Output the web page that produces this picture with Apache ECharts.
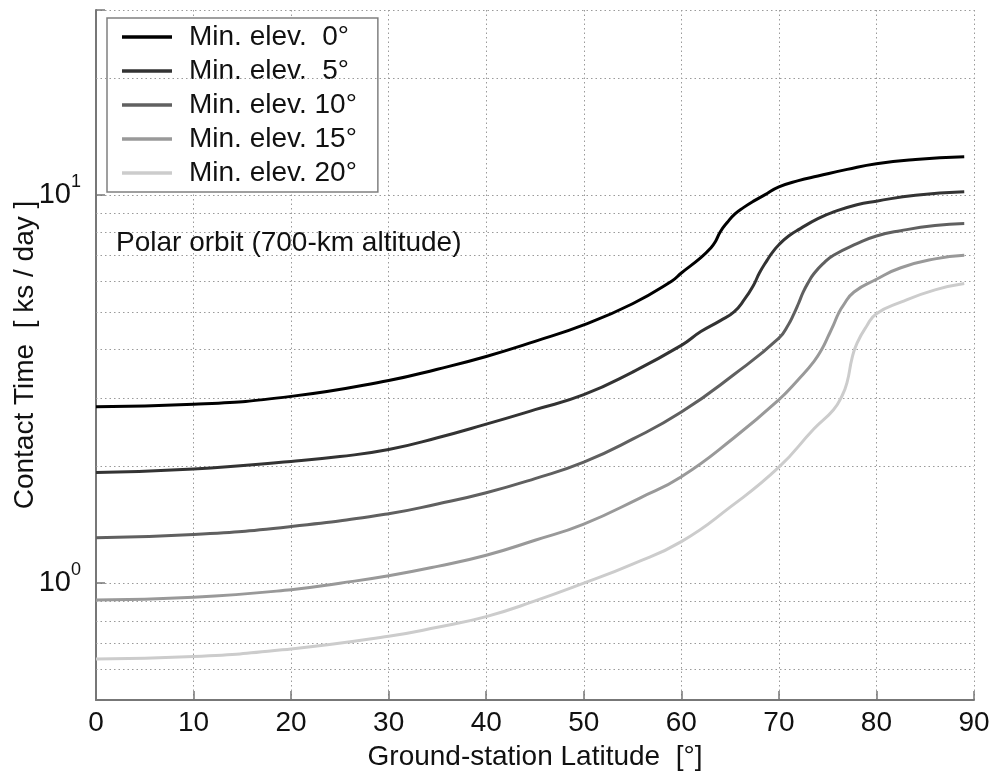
<!DOCTYPE html>
<html>
<head>
<meta charset="utf-8">
<script src="https://cdn.jsdelivr.net/npm/echarts@6/dist/echarts.min.js"></script>
<style>
  html, body { margin: 0; padding: 0; background: #fff; }
  #chart { width: 992px; height: 771px; }
</style>
</head>
<body>
<div id="chart"></div>
<script>
// ground-station latitude [deg] -> contact time [ks/day], one pair of arrays per min. elevation
const latE0 = [0, 10, 20, 30, 35, 40, 45, 50, 55, 59, 60, 62, 63, 63.5, 64, 64.7, 65.5, 66.4, 67.4, 68.5, 70, 72, 74, 77, 80, 84, 89]
const ctE0 = [2.85, 2.89, 3.03, 3.33, 3.56, 3.84, 4.2, 4.63, 5.25, 6.0, 6.3, 6.9, 7.3, 7.6, 8.05, 8.5, 8.95, 9.3, 9.65, 10.0, 10.5, 10.9, 11.2, 11.65, 12.05, 12.35, 12.55]

const latE5 = [0, 10, 20, 25, 30, 35, 40, 45, 50, 55, 60, 62, 64, 65.4, 66.5, 67.4, 68, 68.8, 69.3, 70, 71, 72.2, 74, 75.6, 78, 80, 84, 89]
const ctE5 = [1.93, 1.97, 2.06, 2.12, 2.21, 2.37, 2.57, 2.8, 3.06, 3.5, 4.1, 4.45, 4.75, 5.0, 5.4, 5.86, 6.3, 6.8, 7.1, 7.45, 7.85, 8.2, 8.7, 9.05, 9.45, 9.65, 10.0, 10.2]

const latE10 = [0, 10, 20, 30, 35, 40, 45, 50, 55, 60, 65.4, 70, 71, 71.5, 72, 72.5, 73, 73.6, 74.5, 75.6, 78, 80, 82.5, 86, 89]
const ctE10 = [1.31, 1.335, 1.40, 1.51, 1.60, 1.71, 1.86, 2.05, 2.35, 2.76, 3.45, 4.28, 4.65, 4.92, 5.25, 5.63, 5.95, 6.28, 6.65, 7.0, 7.5, 7.85, 8.1, 8.35, 8.45]

const latE15 = [0, 10, 20, 25, 30, 35, 40, 45, 50, 55.8, 60, 65.4, 70, 72, 73.6, 74.5, 75, 75.6, 76.1, 76.6, 77.7, 80, 82.5, 86, 89]
const ctE15 = [0.905, 0.92, 0.962, 1.0, 1.045, 1.105, 1.18, 1.29, 1.42, 1.66, 1.88, 2.37, 2.97, 3.35, 3.73, 4.05, 4.3, 4.63, 4.95, 5.2, 5.63, 6.07, 6.5, 6.85, 7.0]

const latE20 = [0, 10, 20, 30, 35, 40, 45, 50, 55, 60, 65, 70, 73.6, 75.6, 76.5, 77, 77.5, 78, 79, 80, 82.5, 86, 89]
const ctE20 = [0.638, 0.647, 0.677, 0.73, 0.77, 0.82, 0.9, 1.0, 1.12, 1.28, 1.57, 1.99, 2.5, 2.8, 3.05, 3.3, 3.8, 4.15, 4.6, 4.95, 5.3, 5.7, 5.92]

const seriesNames = ['Min. elev.  0°', 'Min. elev.  5°', 'Min. elev. 10°', 'Min. elev. 15°', 'Min. elev. 20°']
const seriesColors = ['#000000', '#333333', '#606060', '#999999', '#cccccc']
const minorGrid = [0.6, 0.7, 0.8, 0.9, 2, 3, 4, 5, 6, 7, 8, 9, 20]

const FONT = '"Liberation Sans", Arial, sans-serif'
const GRIDC = '#9a9a9a'

const lats = [latE0, latE5, latE10, latE15, latE20]
const vals = [ctE0, ctE5, ctE10, ctE15, ctE20]

const chart = echarts.init(document.getElementById('chart'))

const lineSeries = seriesNames.map((name, k) => ({
  name: name,
  type: 'line',
  data: lats[k].map((x, i) => [x, vals[k][i]]),
  showSymbol: false,
  symbol: 'none',
  smooth: 0.5,
  z: 10 - k,
  lineStyle: { color: seriesColors[k], width: 3 },
  itemStyle: { color: seriesColors[k] }
}))

const option = {
  backgroundColor: '#fff',
  animation: false,
  textStyle: { fontFamily: FONT },
  title: {
    text: 'Polar orbit (700-km altitude)',
    left: 116,
    top: 229,
    padding: 0,
    textStyle: { fontSize: 28, fontWeight: 'normal', color: '#111', fontFamily: FONT }
  },
  legend: {
    data: seriesNames,
    orient: 'vertical',
    left: 107,
    top: 18,
    padding: [5, 21, 5, 15],
    icon: 'rect',
    itemWidth: 50,
    itemHeight: 3.5,
    itemGap: 6,
    backgroundColor: '#fff',
    borderColor: '#808080',
    borderWidth: 1.5,
    borderRadius: 0,
    textStyle: { fontSize: 28, color: '#111', fontFamily: FONT, padding: [0, 0, 0, 12] }
  },
  grid: { left: 96, right: 18, top: 10, bottom: 71, containLabel: false, outerBoundsMode: 'none' },
  xAxis: {
    type: 'value',
    min: 0,
    max: 90,
    interval: 10,
    name: 'Ground-station Latitude  [°]',
    nameLocation: 'middle',
    nameGap: 43,
    nameTextStyle: { fontSize: 28, color: '#111', fontFamily: FONT },
    axisLine: { show: true, lineStyle: { color: '#777', width: 2 } },
    axisTick: { show: true, inside: true, length: 9, lineStyle: { color: '#777', width: 1.5 } },
    axisLabel: { fontSize: 28, color: '#111', margin: 9, fontFamily: FONT },
    splitLine: { show: true, lineStyle: { color: GRIDC, type: [1.5, 3], width: 1 } }
  },
  yAxis: {
    type: 'log',
    logBase: 10,
    min: 0.5,
    max: 30,
    name: 'Contact Time  [ ks / day ]',
    nameLocation: 'middle',
    nameGap: 57,
    nameMoveOverlap: false,
    nameRotate: 90,
    nameTextStyle: { fontSize: 28, color: '#111', fontFamily: FONT },
    axisLine: { show: true, lineStyle: { color: '#777', width: 2 } },
    axisTick: { show: true, inside: true, length: 9, lineStyle: { color: '#777', width: 1.5 } },
    axisLabel: {
      margin: 15,
      formatter: function (v) {
        if (Math.abs(v - 1) < 1e-6) return '{b|10}{s|0}'
        if (Math.abs(v - 10) < 1e-6) return '{b|10}{s|1}'
        return ''
      },
      rich: {
        b: { fontSize: 29, lineHeight: 44, verticalAlign: 'middle', color: '#111', fontFamily: FONT },
        s: { fontSize: 18, lineHeight: 18, verticalAlign: 'top', color: '#111', fontFamily: FONT }
      }
    },
    splitLine: { show: true, lineStyle: { color: GRIDC, type: [1.5, 3], width: 1 } }
  },
  series: [
    {
      name: 'minor-grid',
      type: 'line',
      data: [],
      z: 1,
      silent: true,
      markLine: {
        silent: true,
        symbol: 'none',
        label: { show: false },
        lineStyle: { color: GRIDC, type: [1.5, 3], width: 1 },
        data: minorGrid.map(v => ({ yAxis: v }))
      }
    }
  ].concat(lineSeries)
}

chart.setOption(option)
</script>
</body>
</html>
